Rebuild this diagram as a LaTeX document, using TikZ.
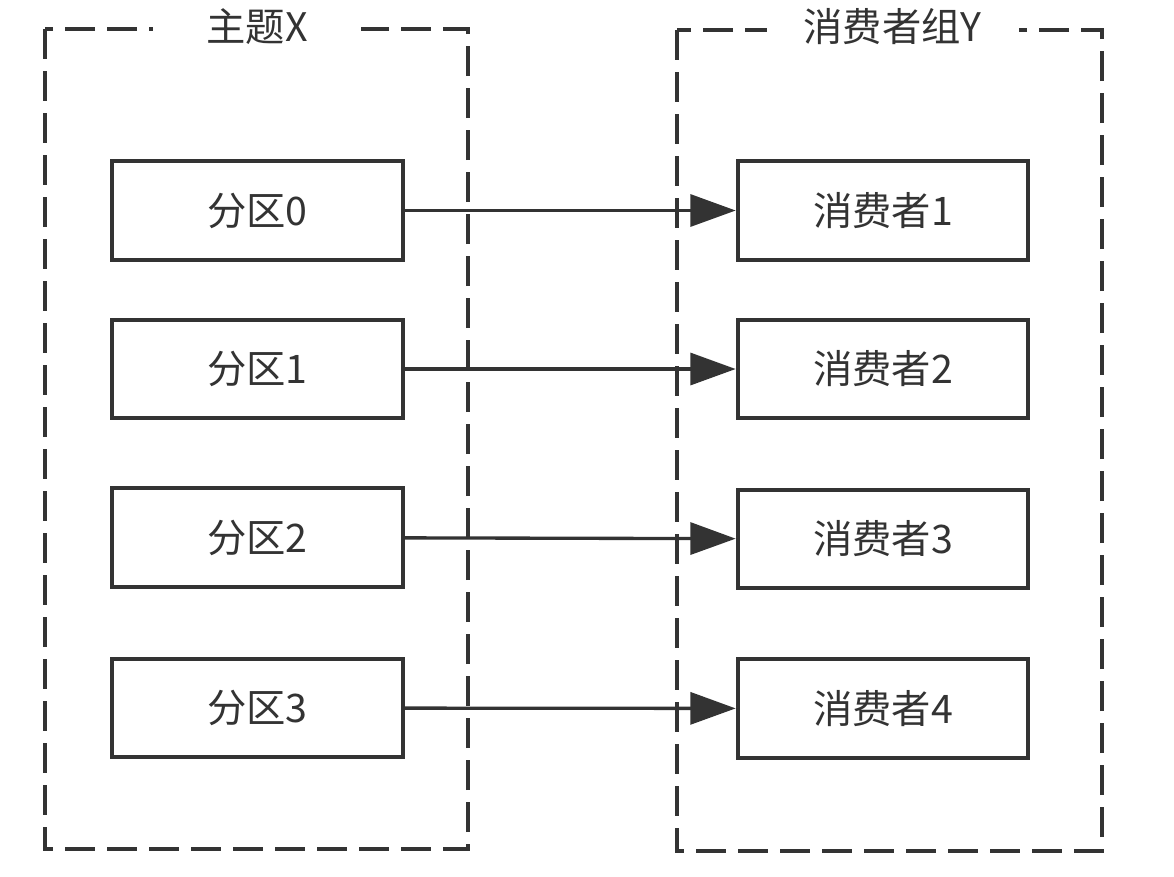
\documentclass[tikz,border=0pt]{standalone}
\usepackage{fontspec}
\setmainfont{Noto Sans CJK SC}
\usetikzlibrary{arrows.meta}
\definecolor{ink}{HTML}{333333}
\tikzset{
  px/.style={x=0.75pt,y=-0.75pt},
  label font/.style={font=\fontsize{29.5}{33}\selectfont},
  groupbox/.style={draw=ink,line width=3pt,dash pattern=on 22.5pt off 9pt},
  grouptitle/.style={fill=white,text=ink,inner sep=2pt,label font},
  itembox/.style={draw=ink,line width=3pt,fill=white,text=ink,
    minimum width=218pt,minimum height=74pt,label font},
  flow/.style={draw=ink,line width=2.5pt,-{Triangle[length=34pt,width=24pt]}}
}
\begin{document}
\begin{tikzpicture}[px]
  \useasboundingbox (0,0) rectangle (1174,876);
  % dashed group frames
  \draw[groupbox] (45,29) rectangle (468,849);
  \draw[groupbox] (677,30) rectangle (1102,851);
  \node[grouptitle,minimum width=156pt] (topic) at (257,27) {主题X};
  \node[grouptitle,minimum width=189pt] (group) at (892.5,27) {消费者组Y};
  % partitions
  \node[itembox] (p0) at (257.5,210.5) {分区0};
  \node[itembox] (p1) at (257.5,369) {分区1};
  \node[itembox] (p2) at (257.5,537.5) {分区2};
  \node[itembox] (p3) at (257.5,708) {分区3};
  % consumers
  \node[itembox] (c1) at (883,210.5) {消费者1};
  \node[itembox] (c2) at (883,369) {消费者2};
  \node[itembox] (c3) at (883,539) {消费者3};
  \node[itembox] (c4) at (883,708.5) {消费者4};
  % assignments
  \draw[flow] (p0) -- (c1);
  \draw[flow] (p1) -- (c2);
  \draw[flow] (p2) -- (c3);
  \draw[flow] (p3) -- (c4);
\end{tikzpicture}
\end{document}
